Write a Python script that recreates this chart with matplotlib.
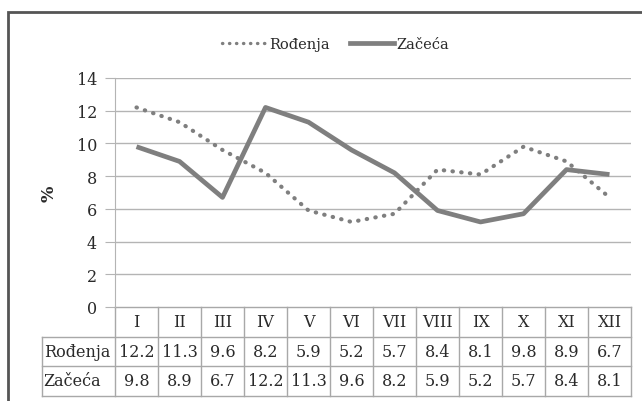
import matplotlib.pyplot as plt
from matplotlib.lines import Line2D
from matplotlib.patches import Rectangle

months = ["I", "II", "III", "IV", "V", "VI", "VII", "VIII", "IX", "X", "XI", "XII"]
rodjenja = [12.2, 11.3, 9.6, 8.2, 5.9, 5.2, 5.7, 8.4, 8.1, 9.8, 8.9, 6.7]
zaceca = [9.8, 8.9, 6.7, 12.2, 11.3, 9.6, 8.2, 5.9, 5.2, 5.7, 8.4, 8.1]
row_labels = ["Rođenja", "Začeća"]
y_ticks = [0, 2, 4, 6, 8, 10, 12, 14]

plt.rcParams['font.family'] = ['DejaVu Serif']
W, H = 642, 402
fig = plt.figure(figsize=(W / 100, H / 100), dpi=100)

line_col = '#7f7f7f'
grid_col = '#b4b4b4'
cell_col = '#a8a8a8'
text_col = '#2a2a2a'

# outer frame
fig.patches.append(Rectangle((8 / W, -0.05), 1.2, (H - 13) / H + 0.05, transform=fig.transFigure,
                             fill=False, edgecolor='#555555', linewidth=2))

x0, x1, ytop, ybot = 115, 631, 79, 308
ax = fig.add_axes([x0 / W, 1 - ybot / H, (x1 - x0) / W, (ybot - ytop) / H])
ax.set_xlim(-0.5, len(months) - 0.5)
ax.set_ylim(0, 14)
ax.set_yticks(y_ticks)
ax.set_xticks([])
for y in y_ticks[1:]:
    ax.axhline(y, color=grid_col, linewidth=1, zorder=1)
for s in ['top', 'right', 'bottom']:
    ax.spines[s].set_visible(False)
ax.spines['left'].set_color(grid_col)
ax.tick_params(axis='y', length=7, color=grid_col, labelsize=11.5, labelcolor=text_col, pad=6)
ax.set_ylabel("%", fontsize=12.5, fontweight='bold', color=text_col, labelpad=14)

x = list(range(len(months)))
ax.plot(x, rodjenja, color=line_col, linewidth=3.0, linestyle=(0, (0.1, 2.0)),
        dash_capstyle='round', zorder=3)
ax.plot(x, zaceca, color=line_col, linewidth=3.4, solid_capstyle='butt', zorder=3)

# legend
handles = [Line2D([], [], color=line_col, linewidth=2.4, linestyle=(0, (0.1, 2.0)), dash_capstyle='round'),
           Line2D([], [], color=line_col, linewidth=3.4)]
fig.legend(handles, row_labels, loc='center', bbox_to_anchor=(0.523, 1 - 45 / H), ncol=2,
           frameon=False, fontsize=10.5, handlelength=3.0, handletextpad=0.2, columnspacing=1.4,
           labelcolor=text_col)

# data table below the axis
row_h = 29.5 / (ybot - ytop) * 14
lab_left = -0.5 - (x0 - 42) / ((x1 - x0) / 12)
tb = dict(color=cell_col, linewidth=1, clip_on=False)
ax.plot([-0.5, 11.5], [0, 0], **tb)
for i in range(1, 4):
    ax.plot([lab_left, 11.5], [-i * row_h, -i * row_h], **tb)
for k in range(13):
    ax.plot([k - 0.5, k - 0.5], [0, -3 * row_h], **tb)
ax.plot([lab_left, lab_left], [-row_h, -3 * row_h], **tb)

fs = 11.5
for k, m in enumerate(months):
    ax.text(k, -0.5 * row_h, m, ha='center', va='center', fontsize=fs, color=text_col, clip_on=False)
    ax.text(k, -1.5 * row_h, f"{rodjenja[k]:.1f}", ha='center', va='center', fontsize=fs,
            color=text_col, clip_on=False)
    ax.text(k, -2.5 * row_h, f"{zaceca[k]:.1f}", ha='center', va='center', fontsize=fs,
            color=text_col, clip_on=False)
for r, lab in enumerate(row_labels):
    ax.text(lab_left + 0.04, -(1.5 + r) * row_h, lab, ha='left', va='center', fontsize=fs,
            color=text_col, clip_on=False)

fig.savefig("out.png", dpi=100)
